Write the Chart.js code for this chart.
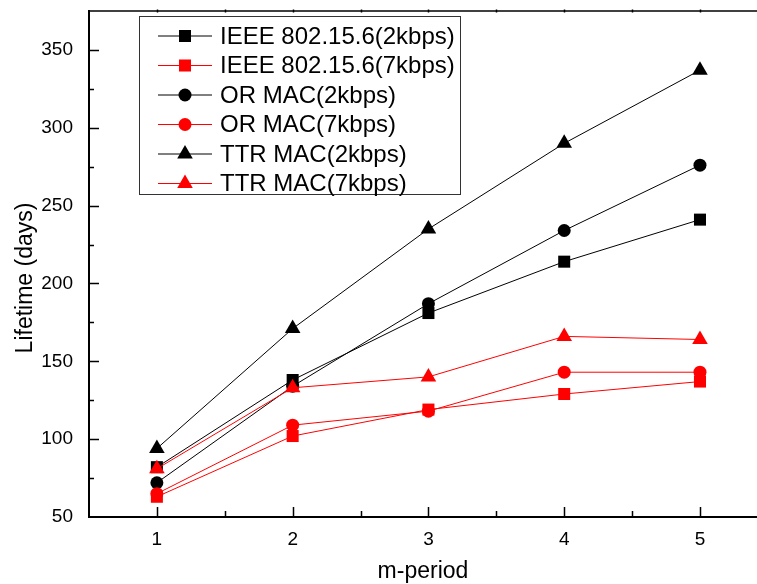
<!DOCTYPE html>
<html>
<head>
<meta charset="utf-8">
<script src="https://cdn.jsdelivr.net/npm/chart.js@4.4.1/dist/chart.umd.min.js"></script>
<style>
    html, body { margin: 0; padding: 0; background: #fff; overflow: hidden; }
    #chart { display: block; }
</style>
</head>
<body>
<canvas id="chart" width="757" height="584"></canvas>
<script>
var mPeriod = [1, 2, 3, 4, 5];
var yTicks = [50, 100, 150, 200, 250, 300, 350];

var ieee2k = [82, 138, 181, 214, 241];
var ieee7k = [63, 102, 119, 129, 137];
var or2k = [72, 134, 187, 234, 276];
var or7k = [65, 109, 118, 143, 143];
var ttr2k = [94, 171, 235, 290, 337];
var ttr7k = [81, 133, 140, 166, 164];

var seriesNames = ['IEEE 802.15.6(2kbps)', 'IEEE 802.15.6(7kbps)', 'OR MAC(2kbps)',
    'OR MAC(7kbps)', 'TTR MAC(2kbps)', 'TTR MAC(7kbps)'];
var seriesValues = [ieee2k, ieee7k, or2k, or7k, ttr2k, ttr7k];
var seriesColors = ['#000000', '#ff0000', '#000000', '#ff0000', '#000000', '#ff0000'];
var seriesShapes = ['rect', 'rect', 'circle', 'circle', 'triangle', 'triangle'];
var shapeRadius = {rect: 8.5, circle: 6.5, triangle: 9};

var FONT = '"Liberation Sans", Arial, sans-serif';

function toPoints(vals) {
    return vals.map(function (v, i) { return {x: mPeriod[i], y: v}; });
}

var datasets = seriesNames.map(function (name, i) {
    return {
        label: name,
        data: toPoints(seriesValues[i]),
        borderColor: seriesColors[i],
        backgroundColor: seriesColors[i],
        pointBackgroundColor: seriesColors[i],
        pointBorderColor: seriesColors[i],
        pointBorderWidth: 0,
        borderWidth: 1,
        pointStyle: seriesShapes[i],
        pointRadius: shapeRadius[seriesShapes[i]],
        pointHoverRadius: shapeRadius[seriesShapes[i]],
        tension: 0,
        order: seriesNames.length - i
    };
});

function noPad(scale) {
    scale.paddingTop = 0;
    scale.paddingBottom = 0;
    scale.paddingLeft = 0;
    scale.paddingRight = 0;
}

// Origin-style axes with inward ticks, titles and boxed legend
var originDecor = {
    id: 'originDecor',
    afterDraw: function (chart) {
        var ctx = chart.ctx;
        var a = chart.chartArea;
        var xs = chart.scales.x, ys = chart.scales.y;
        ctx.save();

        // top axis
        ctx.strokeStyle = '#000';
        ctx.lineWidth = 1.5;
        ctx.beginPath();
        ctx.moveTo(a.left, a.top);
        ctx.lineTo(a.right, a.top);
        ctx.stroke();

        // left and bottom axes
        ctx.lineWidth = 2;
        ctx.beginPath();
        ctx.moveTo(a.left, a.top - 1);
        ctx.lineTo(a.left, a.bottom);
        ctx.lineTo(a.right, a.bottom);
        ctx.stroke();

        // x ticks (bottom inward, small on top)
        ctx.lineWidth = 1.5;
        ctx.beginPath();
        for (var v = 1; v <= 5.4; v += 0.5) {
            var px = Math.round(xs.getPixelForValue(v)) + 0.5;
            var len = (v % 1 === 0) ? 10 : 6;
            ctx.moveTo(px, a.bottom);
            ctx.lineTo(px, a.bottom - len);
            ctx.moveTo(px, a.top - 1.5);
            ctx.lineTo(px, a.top + 1.5);
        }
        ctx.stroke();

        // y ticks
        ctx.beginPath();
        for (var w = 75; w <= 350; w += 25) {
            var py = Math.round(ys.getPixelForValue(w)) + 0.5;
            var l2 = (w % 50 === 0) ? 10 : 5;
            ctx.moveTo(a.left, py);
            ctx.lineTo(a.left + l2, py);
        }
        ctx.stroke();

        // axis titles
        ctx.fillStyle = '#000';
        ctx.font = '23px ' + FONT;
        ctx.textAlign = 'center';
        ctx.textBaseline = 'alphabetic';
        ctx.fillText('m-period', (a.left + a.right) / 2, 578);
        ctx.save();
        ctx.translate(32, 278);
        ctx.rotate(-Math.PI / 2);
        ctx.fillText('Lifetime (days)', 0, 0);
        ctx.restore();

        // legend
        ctx.lineWidth = 1;
        ctx.strokeStyle = '#333';
        ctx.fillStyle = '#fff';
        ctx.fillRect(139.5, 16.5, 321, 178);
        ctx.strokeRect(139.5, 16.5, 321, 178);
        ctx.font = '24px ' + FONT;
        ctx.textAlign = 'left';
        ctx.textBaseline = 'middle';
        chart.data.datasets.forEach(function (ds, i) {
            var cy = 36 + i * 29.5;
            ctx.strokeStyle = ds.borderColor;
            ctx.lineWidth = 1;
            ctx.beginPath();
            ctx.moveTo(158, cy);
            ctx.lineTo(212, cy);
            ctx.stroke();
            ctx.fillStyle = ds.borderColor;
            Chart.helpers.drawPoint(ctx, {pointStyle: ds.pointStyle, radius: ds.pointRadius, borderWidth: 0}, 185, cy);
            ctx.fillStyle = '#000';
            ctx.fillText(ds.label, 220, cy + 1);
        });
        ctx.restore();
    }
};

new Chart(document.getElementById('chart'), {
    type: 'line',
    data: {datasets: datasets},
    options: {
        responsive: false,
        animation: false,
        events: [],
        layout: {autoPadding: false, padding: {top: 11, right: 0, left: 0, bottom: 0}},
        plugins: {legend: {display: false}, tooltip: {enabled: false}},
        scales: {
            x: {
                type: 'linear',
                min: 0.5,
                max: 5.42,
                afterBuildTicks: function (scale) {
                    scale.ticks = mPeriod.map(function (v) { return {value: v}; });
                },
                afterFit: function (scale) { scale.height = 67; noPad(scale); },
                grid: {display: false},
                border: {display: false},
                ticks: {color: '#000', font: {family: FONT, size: 19}, padding: 3, maxRotation: 0}
            },
            y: {
                min: 50,
                max: 375,
                afterBuildTicks: function (scale) {
                    scale.ticks = yTicks.map(function (v) { return {value: v}; });
                },
                afterFit: function (scale) { scale.width = 89; noPad(scale); },
                grid: {display: false},
                border: {display: false},
                ticks: {color: '#000', font: {family: FONT, size: 19}, padding: 8}
            }
        }
    },
    plugins: [originDecor]
});
</script>
</body>
</html>
